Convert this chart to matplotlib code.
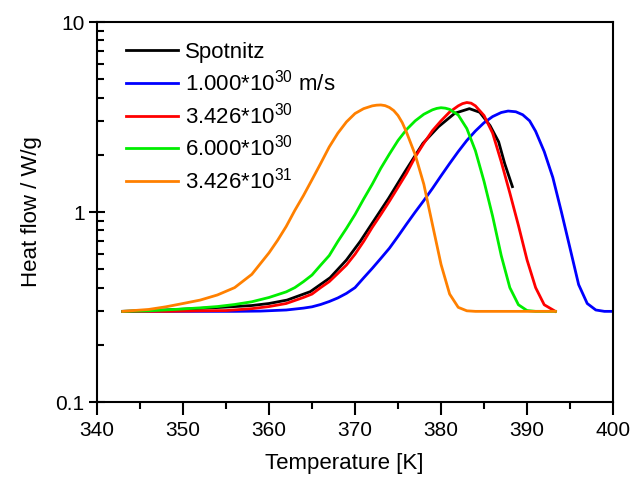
import matplotlib
matplotlib.use("Agg")
import matplotlib.pyplot as plt
from matplotlib.ticker import LogLocator, NullFormatter, FixedLocator, FixedFormatter

plt.rcParams['font.family'] = ['Liberation Sans', 'DejaVu Sans']
plt.rcParams['mathtext.fontset'] = 'custom'
plt.rcParams['mathtext.rm'] = 'Liberation Sans'
plt.rcParams['mathtext.it'] = 'Liberation Sans'

# Measured heat flow (Spotnitz)
spot_T = [343.0, 348.0, 352.0, 355.0, 358.0, 360.0, 362.1, 364.8, 367.1, 369.0,
          370.6, 371.9, 373.9, 375.8, 377.9, 379.7, 381.6, 383.3, 384.5, 385.7,
          386.7, 387.4, 388.3]
spot_q = [0.30, 0.305, 0.311, 0.316, 0.322, 0.33, 0.344, 0.381, 0.451, 0.559,
          0.70, 0.86, 1.18, 1.63, 2.30, 2.81, 3.31, 3.50, 3.35, 2.85,
          2.34, 1.80, 1.36]

# Simulated heat flow, frequency factor 1.000e30 m/s
blue_T = [343, 350, 356, 359, 362, 364, 365, 366, 367, 368, 369, 370, 371, 372,
          373, 374, 375, 376, 377, 378, 379, 380, 381, 382, 383, 384, 385, 386,
          387, 387.8, 388.7, 389.5, 390.3, 391, 392, 393, 394, 395, 396, 397,
          398, 399, 400]
blue_q = [0.30, 0.30, 0.30, 0.301, 0.305, 0.312, 0.317, 0.326, 0.338, 0.353,
          0.373, 0.40, 0.45, 0.505, 0.57, 0.645, 0.745, 0.865, 1.0, 1.15,
          1.33, 1.55, 1.80, 2.08, 2.38, 2.67, 2.95, 3.18, 3.34, 3.40, 3.37,
          3.25, 3.02, 2.66, 2.08, 1.52, 1.00, 0.645, 0.415, 0.33, 0.305,
          0.30, 0.30]

# Frequency factor 3.426e30
red_T = [343, 348, 352, 355, 358, 360, 362, 364, 365, 366, 367, 368, 369, 370,
         371, 372, 373, 374, 375, 376, 377, 378, 379, 380, 381, 382, 382.5,
         383, 383.5, 384, 385, 386, 387, 388, 389, 390, 391, 392, 393.3]
red_q = [0.30, 0.30, 0.302, 0.303, 0.31, 0.318, 0.33, 0.355, 0.37, 0.40, 0.43,
         0.475, 0.526, 0.60, 0.70, 0.83, 0.97, 1.14, 1.35, 1.60, 1.95, 2.30,
         2.68, 3.02, 3.36, 3.62, 3.72, 3.77, 3.74, 3.62, 3.22, 2.60, 1.84,
         1.26, 0.85, 0.56, 0.40, 0.325, 0.30]

# Frequency factor 6.000e30
green_T = [343, 346, 349, 352, 354, 356, 358, 360, 362, 363, 364, 365, 366, 367,
           368, 369, 370, 371, 372, 373, 374, 375, 376, 377, 378, 379, 379.5,
           380, 380.5, 381, 382, 383, 384, 385, 386, 387, 388, 389, 390, 391,
           393.3]
green_q = [0.30, 0.302, 0.307, 0.313, 0.318, 0.326, 0.337, 0.355, 0.38, 0.40,
           0.43, 0.466, 0.525, 0.59, 0.70, 0.82, 0.97, 1.17, 1.40, 1.70, 2.02,
           2.38, 2.72, 3.02, 3.27, 3.45, 3.51, 3.54, 3.52, 3.47, 3.24, 2.75,
           2.10, 1.45, 0.95, 0.59, 0.40, 0.325, 0.303, 0.30, 0.30]

# Frequency factor 3.426e31
orange_T = [343, 346, 348, 350, 352, 354, 356, 358, 360, 361, 362, 363, 364,
            365, 366, 367, 368, 369, 370, 371, 372, 372.5, 373, 373.5, 374,
            374.5, 375, 375.5, 376, 377, 378, 379, 380, 381, 382, 383, 384,
            393.3]
orange_q = [0.30, 0.307, 0.317, 0.33, 0.344, 0.366, 0.40, 0.47, 0.61, 0.71,
            0.84, 1.02, 1.22, 1.48, 1.80, 2.20, 2.60, 2.98, 3.30, 3.50, 3.62,
            3.65, 3.66, 3.63, 3.55, 3.42, 3.22, 2.95, 2.62, 2.00, 1.40, 0.86,
            0.53, 0.37, 0.315, 0.302, 0.30, 0.30]

series = [
    (spot_T, spot_q, 'black', 'Spotnitz'),
    (blue_T, blue_q, '#0000FF', r'1.000*10$^{30}$ m/s'),
    (red_T, red_q, '#FF0000', r'3.426*10$^{30}$'),
    (green_T, green_q, '#00EE00', r'6.000*10$^{30}$'),
    (orange_T, orange_q, '#FF8000', r'3.426*10$^{31}$'),
]

fig = plt.figure(figsize=(6.35, 4.84), dpi=100)
ax = fig.add_axes([0.1528, 0.1694, 0.8126, 0.7851])

for T, q, c, lab in series:
    ax.plot(T, q, color=c, lw=2.0, label=lab, solid_joinstyle='round')

ax.set_yscale('log')
ax.set_xlim(340, 400)
ax.set_ylim(0.1, 10)

ax.xaxis.set_major_locator(FixedLocator([340, 350, 360, 370, 380, 390, 400]))
ax.xaxis.set_minor_locator(FixedLocator([345, 355, 365, 375, 385, 395]))
ax.yaxis.set_major_locator(FixedLocator([0.1, 1, 10]))
ax.yaxis.set_major_formatter(FixedFormatter(['0.1', '1', '10']))
ax.yaxis.set_minor_locator(LogLocator(base=10, subs=range(2, 10)))
ax.yaxis.set_minor_formatter(NullFormatter())

ax.tick_params(axis='x', which='major', direction='out', length=9, width=1.5, labelsize=15, pad=5)
ax.tick_params(axis='x', which='minor', direction='out', length=5, width=1.5)
ax.tick_params(axis='y', which='major', direction='inout', length=12, width=1.5, labelsize=15, pad=3)
ax.tick_params(axis='y', which='minor', direction='in', length=5, width=1.5)
ax.tick_params(top=False, right=False, which='both')

for s in ax.spines.values():
    s.set_linewidth(1.5)

ax.set_xlabel('Temperature [K]', fontsize=16, labelpad=10)
ax.xaxis.set_label_coords(0.48, -0.135)
ax.set_ylabel('Heat flow / W/g', fontsize=16, labelpad=10)

ax.legend(loc='upper left', frameon=False, fontsize=16, handlelength=2.35,
          handletextpad=0.3, labelspacing=0.3, borderaxespad=0.0, borderpad=0.0,
          bbox_to_anchor=(0.056, 0.947))

fig.savefig('out.png', dpi=100)
